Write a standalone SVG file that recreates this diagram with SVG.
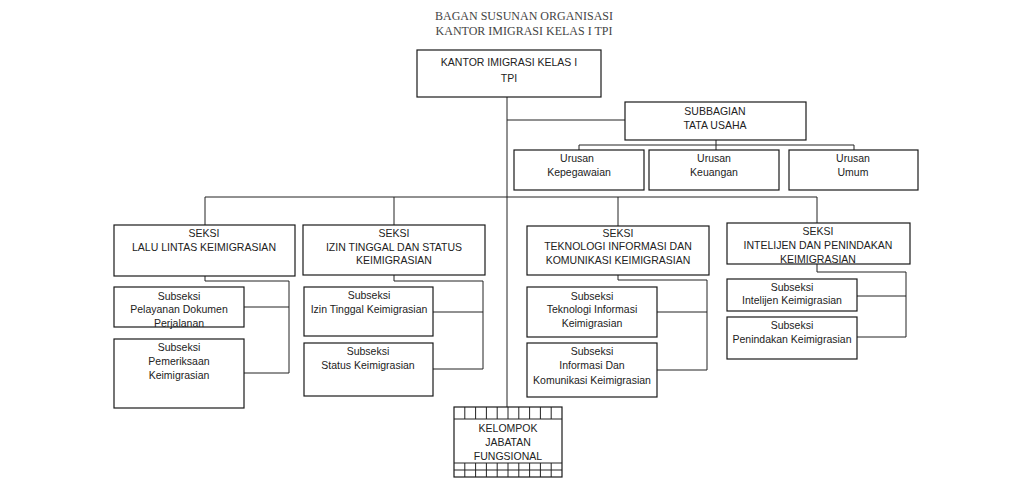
<svg xmlns="http://www.w3.org/2000/svg" width="1035" height="501" viewBox="0 0 1035 501">
<style>
.b{fill:#fff;stroke:#1a1a1a;stroke-width:1.2}
.l{fill:none;stroke:#222;stroke-width:1}
.t{font-family:"Liberation Sans",Arial,sans-serif;font-size:10.5px;fill:#222;text-anchor:middle}
.h{font-family:"Liberation Serif","Times New Roman",serif;font-size:12px;fill:#444;text-anchor:middle}
</style>
<rect width="1035" height="501" fill="#fff"/>
<text class="h" x="524" y="20">BAGAN SUSUNAN ORGANISASI</text>
<text class="h" x="524" y="35">KANTOR IMIGRASI KELAS I TPI</text>
<g id="connectors">
<path class="l" d="M507,97 V419"/>
<path class="l" d="M507,120 H625"/>
<path class="l" d="M716,140 V145 M579,145 H854 M579,145 V150 M716,145 V150 M854,145 V150"/>
<path class="l" d="M205,197 H817 M205,197 V225 M394,197 V225 M618,197 V226 M817,197 V223"/>
<path class="l" d="M205,276 V281 H289 V373 M244,307 H289 M244,373 H289"/>
<path class="l" d="M394,275 V281 H483 V369 M433,312 H483 M433,369 H483"/>
<path class="l" d="M618,275 V280 H707 V370 M657,312 H707 M657,370 H707"/>
<path class="l" d="M817,264 V272 H906 V337 M857,296 H906 M857,337 H906"/>
</g>
<g id="kantor">
<rect class="b" x="417" y="50" width="184" height="47"/>
<text class="t" x="509" y="66">KANTOR IMIGRASI KELAS I</text>
<text class="t" x="509" y="82">TPI</text>
</g>
<g id="subbagian">
<rect class="b" x="625" y="102" width="181" height="38"/>
<text class="t" x="715" y="115">SUBBAGIAN</text>
<text class="t" x="715" y="129">TATA USAHA</text>
</g>
<g id="urusan-kepegawaian">
<rect class="b" x="514" y="150" width="130" height="40"/>
<text class="t" x="577" y="162">Urusan</text>
<text class="t" x="579" y="176">Kepegawaian</text>
</g>
<g id="urusan-keuangan">
<rect class="b" x="649" y="150" width="130" height="40"/>
<text class="t" x="714" y="162">Urusan</text>
<text class="t" x="714" y="176">Keuangan</text>
</g>
<g id="urusan-umum">
<rect class="b" x="789" y="150" width="129" height="40"/>
<text class="t" x="853" y="162">Urusan</text>
<text class="t" x="853" y="176">Umum</text>
</g>
<g id="seksi-lalu-lintas">
<rect class="b" x="114" y="225" width="181" height="51"/>
<text class="t" x="204" y="237">SEKSI</text>
<text class="t" x="204" y="251">LALU LINTAS KEIMIGRASIAN</text>
</g>
<g id="seksi-izin-tinggal">
<rect class="b" x="303" y="225" width="182" height="50"/>
<text class="t" x="394" y="237">SEKSI</text>
<text class="t" x="394" y="251">IZIN TINGGAL DAN STATUS</text>
<text class="t" x="394" y="264">KEIMIGRASIAN</text>
</g>
<g id="seksi-teknologi">
<rect class="b" x="527" y="226" width="182" height="49"/>
<text class="t" x="618" y="237">SEKSI</text>
<text class="t" x="618" y="250">TEKNOLOGI INFORMASI DAN</text>
<text class="t" x="618" y="264">KOMUNIKASI KEIMIGRASIAN</text>
</g>
<g id="seksi-intelijen">
<rect class="b" x="727" y="223" width="183" height="41"/>
<text class="t" x="818" y="235">SEKSI</text>
<text class="t" x="818" y="249">INTELIJEN DAN PENINDAKAN</text>
<text class="t" x="818" y="263">KEIMIGRASIAN</text>
</g>
<g id="subseksi-pelayanan">
<rect class="b" x="114" y="287" width="130" height="40"/>
<text class="t" x="179" y="300">Subseksi</text>
<text class="t" x="179" y="313">Pelayanan Dokumen</text>
<text class="t" x="179" y="327">Perjalanan</text>
</g>
<g id="subseksi-pemeriksaan">
<rect class="b" x="114" y="339" width="130" height="69"/>
<text class="t" x="179" y="351">Subseksi</text>
<text class="t" x="179" y="365">Pemeriksaan</text>
<text class="t" x="179" y="379">Keimigrasian</text>
</g>
<g id="subseksi-izin-tinggal">
<rect class="b" x="304" y="287" width="129" height="49"/>
<text class="t" x="369" y="299">Subseksi</text>
<text class="t" x="369" y="313">Izin Tinggal Keimigrasian</text>
</g>
<g id="subseksi-status">
<rect class="b" x="304" y="343" width="129" height="53"/>
<text class="t" x="368" y="355">Subseksi</text>
<text class="t" x="368" y="369">Status Keimigrasian</text>
</g>
<g id="subseksi-teknologi">
<rect class="b" x="527" y="287" width="130" height="50"/>
<text class="t" x="592" y="300">Subseksi</text>
<text class="t" x="592" y="313">Teknologi Informasi</text>
<text class="t" x="592" y="327">Keimigrasian</text>
</g>
<g id="subseksi-informasi">
<rect class="b" x="527" y="343" width="130" height="54"/>
<text class="t" x="592" y="355">Subseksi</text>
<text class="t" x="592" y="369">Informasi Dan</text>
<text class="t" x="592" y="384">Komunikasi Keimigrasian</text>
</g>
<g id="subseksi-intelijen">
<rect class="b" x="727" y="279" width="130" height="32"/>
<text class="t" x="792" y="291">Subseksi</text>
<text class="t" x="792" y="304">Intelijen Keimigrasian</text>
</g>
<g id="subseksi-penindakan">
<rect class="b" x="727" y="317" width="130" height="42"/>
<text class="t" x="792" y="329">Subseksi</text>
<text class="t" x="792" y="343">Penindakan Keimigrasian</text>
</g>
<g id="kelompok-jabatan-fungsional">
<rect class="b" x="454" y="407" width="108" height="70"/>
<path class="l" d="M454,419 H562 M454,463 H562 M454,470 H562"/>
<path class="l" d="M464.8,407 V419 M475.6,407 V419 M486.4,407 V419 M497.2,407 V419 M508,407 V419 M518.8,407 V419 M529.6,407 V419 M540.4,407 V419 M551.2,407 V419"/>
<path class="l" d="M464.8,463 V477 M475.6,463 V477 M486.4,463 V477 M497.2,463 V477 M508,463 V477 M518.8,463 V477 M529.6,463 V477 M540.4,463 V477 M551.2,463 V477"/>
<text class="t" x="508" y="432">KELOMPOK</text>
<text class="t" x="508" y="446">JABATAN</text>
<text class="t" x="508" y="460">FUNGSIONAL</text>
</g>
</svg>
